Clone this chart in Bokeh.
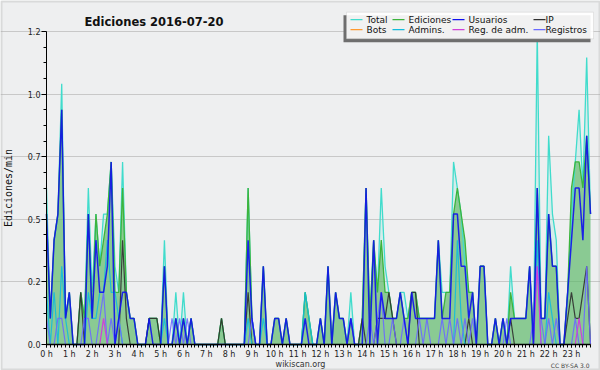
from bokeh.plotting import figure
from bokeh.models import ColumnDataSource, Range1d, FixedTicker, Label, BoxAnnotation
from bokeh.embed import file_html
from bokeh.resources import INLINE

# ---- data: edits counted in each 10-minute bin of 2016-07-20 (00:00 ... 23:50) ----
total = [
    6, 1, 4, 5, 10, 1,   # 0 h
    2, 0, 0, 2, 1, 6,    # 1 h
    2, 5, 3, 5, 5, 7,    # 2 h
    3, 2, 7, 2, 1, 1,    # 3 h
    0, 0, 0, 1, 1, 1,    # 4 h
    0, 4, 0, 0, 2, 0,    # 5 h
    2, 0, 1, 0, 0, 0,    # 6 h
    0, 0, 0, 0, 1, 0,    # 7 h
    0, 0, 0, 0, 0, 6,    # 8 h
    1, 0, 0, 3, 0, 0,    # 9 h
    1, 1, 0, 1, 0, 0,    # 10 h
    0, 0, 2, 1, 0, 0,    # 11 h
    1, 0, 3, 0, 2, 1,    # 12 h
    1, 0, 2, 0, 0, 1,    # 13 h
    6, 1, 4, 2, 6, 3,    # 14 h
    2, 1, 1, 2, 2, 1,    # 15 h
    2, 2, 1, 1, 1, 1,    # 16 h
    1, 4, 2, 2, 2, 7,    # 17 h
    6, 5, 3, 2, 2, 0,    # 18 h
    3, 3, 0, 0, 1, 0,    # 19 h
    1, 0, 3, 1, 1, 1,    # 20 h
    1, 3, 0, 12, 1, 1,   # 21 h
    8, 5, 4, 0, 0, 2,    # 22 h
    5, 7, 9, 6, 11, 5,   # 23 h
]
ediciones = [
    5, 1, 4, 5, 9, 1,
    2, 0, 0, 2, 1, 5,
    1, 5, 3, 4, 5, 7,
    2, 2, 6, 2, 1, 1,
    0, 0, 0, 1, 1, 1,
    0, 3, 0, 0, 1, 0,
    1, 0, 1, 0, 0, 0,
    0, 0, 0, 0, 1, 0,
    0, 0, 0, 0, 0, 6,
    1, 0, 0, 3, 0, 0,
    1, 1, 0, 1, 0, 0,
    0, 0, 2, 1, 0, 0,
    1, 0, 3, 0, 2, 1,
    1, 0, 1, 0, 0, 1,
    6, 1, 4, 2, 4, 2,
    2, 1, 1, 2, 1, 1,
    2, 2, 1, 1, 1, 1,
    1, 4, 1, 2, 2, 5,
    6, 5, 4, 2, 2, 0,
    3, 3, 0, 0, 1, 0,
    1, 0, 2, 1, 1, 1,
    1, 3, 0, 6, 1, 1,
    5, 3, 3, 0, 0, 2,
    6, 7, 7, 6, 8, 5,
]
usuarios = [
    5, 1, 4, 5, 9, 1,
    2, 0, 0, 0, 0, 5,
    1, 4, 2, 2, 3, 7,
    0, 1, 2, 2, 1, 1,
    0, 0, 0, 1, 0, 0,
    0, 3, 0, 0, 1, 0,
    1, 0, 1, 0, 0, 0,
    0, 0, 0, 0, 0, 0,
    0, 0, 0, 0, 0, 4,
    1, 0, 0, 3, 0, 0,
    1, 1, 0, 1, 0, 0,
    0, 0, 1, 0, 0, 0,
    1, 0, 3, 0, 2, 1,
    1, 0, 1, 0, 0, 0,
    6, 0, 4, 0, 2, 1,
    1, 1, 1, 2, 1, 0,
    2, 1, 1, 1, 1, 1,
    1, 4, 1, 1, 1, 5,
    5, 3, 3, 1, 2, 0,
    3, 3, 0, 0, 1, 0,
    1, 0, 1, 1, 1, 1,
    1, 3, 0, 6, 1, 1,
    5, 3, 3, 0, 0, 2,
    4, 6, 6, 4, 8, 5,
]
ip = [
    0, 0, 0, 0, 0, 0,
    0, 0, 0, 2, 0, 0,
    0, 0, 0, 0, 0, 0,
    0, 0, 4, 1, 0, 0,
    0, 0, 0, 1, 1, 1,
    0, 0, 0, 0, 0, 0,
    0, 0, 0, 0, 0, 0,
    0, 0, 0, 0, 1, 0,
    0, 0, 0, 0, 0, 2,
    0, 0, 0, 0, 0, 0,
    0, 0, 0, 0, 0, 0,
    0, 0, 0, 0, 0, 0,
    0, 0, 0, 0, 0, 0,
    0, 0, 0, 0, 0, 1,
    0, 0, 0, 1, 1, 1,
    2, 1, 0, 0, 0, 0,
    2, 2, 0, 0, 0, 0,
    0, 0, 0, 0, 0, 0,
    0, 0, 0, 1, 0, 0,
    0, 0, 0, 0, 0, 0,
    0, 0, 1, 0, 0, 0,
    0, 0, 0, 0, 0, 0,
    0, 0, 0, 0, 0, 1,
    2, 1, 1, 2, 3, 0,
]
bots = [
    0, 0, 0, 0, 0, 0,  0, 0, 0, 0, 0, 0,  0, 0, 0, 0, 0, 0,  0, 0, 0, 0, 0, 0,
    0, 0, 0, 0, 0, 0,  0, 0, 0, 0, 0, 0,  0, 0, 0, 0, 0, 0,  0, 0, 0, 0, 0, 0,
    0, 0, 0, 0, 0, 0,  0, 0, 0, 0, 0, 0,  0, 0, 0, 0, 0, 0,  0, 0, 0, 0, 0, 0,
    0, 0, 0, 0, 0, 0,  0, 0, 0, 0, 0, 0,  0, 0, 0, 0, 0, 0,  0, 0, 0, 0, 0, 0,
    0, 0, 0, 0, 0, 0,  0, 0, 0, 0, 0, 0,  0, 0, 0, 0, 0, 0,  0, 0, 0, 0, 0, 0,
    0, 0, 0, 0, 0, 0,  0, 0, 0, 0, 0, 0,  0, 0, 0, 0, 0, 0,  0, 0, 0, 0, 0, 0,
]
admins = [
    2, 0, 2, 0, 3, 1,
    0, 0, 0, 0, 0, 2,
    1, 1, 2, 2, 4, 2,
    2, 1, 0, 0, 0, 0,
    0, 0, 0, 0, 0, 0,
    0, 1, 0, 0, 0, 0,
    0, 0, 0, 0, 0, 0,
    0, 0, 0, 0, 0, 0,
    0, 0, 0, 0, 0, 1,
    0, 0, 0, 1, 0, 0,
    0, 0, 0, 0, 0, 0,
    0, 0, 2, 1, 0, 0,
    0, 0, 0, 0, 0, 0,
    0, 0, 0, 0, 0, 0,
    0, 0, 0, 0, 0, 0,
    0, 0, 0, 0, 0, 0,
    0, 0, 0, 0, 0, 0,
    0, 0, 0, 0, 0, 0,
    4, 1, 0, 0, 0, 0,
    0, 0, 0, 0, 0, 0,
    0, 0, 0, 0, 0, 0,
    0, 0, 0, 4, 0, 0,
    2, 1, 0, 0, 0, 0,
    0, 0, 0, 0, 0, 0,
]
reg_adm = [
    0, 0, 0, 0, 0, 0,
    0, 0, 0, 0, 0, 0,
    0, 0, 0, 1, 0, 0,
    0, 0, 0, 0, 0, 0,
    0, 0, 0, 0, 0, 0,
    0, 0, 0, 0, 0, 0,
    0, 0, 0, 0, 0, 0,
    0, 0, 0, 0, 0, 0,
    0, 0, 0, 0, 0, 0,
    0, 0, 0, 0, 0, 0,
    0, 0, 0, 0, 0, 0,
    0, 0, 0, 0, 0, 0,
    0, 0, 0, 0, 0, 0,
    0, 0, 0, 0, 0, 0,
    0, 0, 0, 0, 0, 0,
    0, 0, 0, 0, 0, 0,
    0, 0, 0, 0, 0, 0,
    0, 0, 0, 0, 0, 0,
    0, 0, 0, 0, 0, 0,
    0, 0, 0, 0, 0, 0,
    0, 0, 0, 0, 0, 0,
    0, 0, 0, 3, 0, 0,
    0, 0, 0, 0, 0, 0,
    0, 0, 1, 0, 0, 0,
]
registros = [
    1, 0, 0, 1, 1, 0,
    0, 0, 0, 0, 1, 1,
    0, 0, 1, 2, 0, 1,
    0, 1, 0, 0, 0, 0,
    0, 0, 0, 0, 0, 0,
    0, 0, 0, 1, 0, 1,
    0, 1, 0, 0, 0, 0,
    0, 0, 0, 0, 0, 0,
    0, 0, 0, 0, 0, 0,
    1, 0, 0, 0, 0, 0,
    0, 0, 0, 0, 0, 0,
    0, 0, 0, 0, 0, 0,
    0, 0, 0, 0, 0, 0,
    0, 0, 1, 0, 0, 0,
    0, 1, 0, 1, 2, 0,
    0, 1, 0, 0, 1, 0,
    0, 0, 1, 0, 1, 0,
    0, 0, 1, 0, 1, 0,
    1, 0, 1, 0, 1, 0,
    0, 0, 0, 0, 0, 0,
    0, 1, 0, 0, 0, 0,
    0, 0, 1, 3, 1, 0,
    1, 0, 1, 0, 0, 0,
    0, 1, 0, 0, 3, 0,
]

series_names = ["Total", "Ediciones", "Usuarios", "IP", "Bots", "Admins.", "Reg. de adm.", "Registros"]
x_tick_labels = ["0 h", "1 h", "2 h", "3 h", "4 h", "5 h", "6 h", "7 h", "8 h", "9 h", "10 h", "11 h",
                 "12 h", "13 h", "14 h", "15 h", "16 h", "17 h", "18 h", "19 h", "20 h", "21 h", "22 h", "23 h"]
y_tick_values = [0.0, 0.24, 0.48, 0.72, 0.96, 1.2]
y_tick_labels = ["0.0", "0.2", "0.5", "0.7", "1.0", "1.2"]
y_minor_ticks = [0.06, 0.12, 0.18, 0.30, 0.36, 0.42, 0.54, 0.60, 0.66, 0.78, 0.84, 0.90, 1.02, 1.08, 1.14]
title_text = "Ediciones  2016-07-20"

# ---- derived: time in hours for each bin, rate in edits / minute ----
n = len(total)
hours = [i / 6 for i in range(n)]
def per_min(a):
    return [v / 10 for v in a]

src = ColumnDataSource(dict(
    x=hours, total=per_min(total), ediciones=per_min(ediciones), usuarios=per_min(usuarios),
    ip=per_min(ip), bots=per_min(bots), admins=per_min(admins), reg_adm=per_min(reg_adm),
    registros=per_min(registros),
))

# ---- layout: the frame covers the whole canvas; axes are drawn at fixed positions ----
W, H = 600, 370
PX0, PX1 = 46, 590       # canvas x of first / last bin
PY0, PY1 = 344, 31       # canvas y of 0 and of top tick
XMAX = hours[-1]
YMAX = y_tick_values[-1]
xpp = XMAX / (PX1 - PX0)
ypp = YMAX / (PY0 - PY1)
x_range = Range1d(-PX0 * xpp, XMAX + (W - PX1) * xpp)
y_range = Range1d(-(H - PY0) * ypp, YMAX + PY1 * ypp)

BG = "#eeeff0"
FONT = "DejaVu Sans"
colors = {
    "Total": "#40dccc", "Ediciones": "#3cb43c", "Usuarios": "#1010f0", "IP": "#303030",
    "Bots": "#ff9a30", "Admins.": "#12bcdc", "Reg. de adm.": "#d040d8", "Registros": "#6a6aff",
}

p = figure(width=W, height=H, output_backend="svg", toolbar_location=None, title=None,
           x_range=x_range, y_range=y_range,
           min_border=0, min_border_left=0, min_border_right=0, min_border_top=0, min_border_bottom=0,
           background_fill_color=BG, border_fill_color=BG, outline_line_color=None)

# axes
xa = p.xaxis[0]
xa.fixed_location = 0
xa.bounds = (0, XMAX)
xa.ticker = FixedTicker(ticks=list(range(24)), minor_ticks=hours)
xa.major_label_overrides = {i: lab for i, lab in enumerate(x_tick_labels)}
xa.major_tick_out = 3
xa.major_tick_in = 0
xa.minor_tick_out = 3
xa.minor_tick_in = 0
xa.major_label_standoff = 2
xa.axis_line_width = 1.5
xa.axis_line_color = "black"
xa.major_tick_line_color = "black"
xa.minor_tick_line_color = "black"
xa.major_label_text_font = FONT
xa.major_label_text_font_size = "8px"
xa.major_label_text_color = "#222222"

ya = p.yaxis[0]
ya.fixed_location = 0
ya.bounds = (0, YMAX)
ya.ticker = FixedTicker(ticks=y_tick_values, minor_ticks=y_minor_ticks)
ya.major_label_overrides = {v: lab for v, lab in zip(y_tick_values, y_tick_labels)}
ya.major_tick_out = 5
ya.major_tick_in = 0
ya.minor_tick_out = 3
ya.minor_tick_in = 0
ya.major_label_standoff = 1
ya.axis_line_color = "black"
ya.major_tick_line_color = "black"
ya.minor_tick_line_color = "black"
ya.major_label_text_font = FONT
ya.major_label_text_font_size = "8px"
ya.major_label_text_color = "#222222"
ya.axis_label = "Ediciones/min"
ya.axis_label_text_font = "DejaVu Sans Mono"
ya.axis_label_text_font_size = "10px"
ya.axis_label_text_font_style = "normal"
ya.axis_label_text_color = "#111111"
ya.axis_label_standoff = 11

p.xgrid.visible = False
p.ygrid.ticker = FixedTicker(ticks=y_tick_values[1:])
p.ygrid.bounds = (0, XMAX)
p.ygrid.grid_line_color = "#c8c8c8"
p.ygrid.grid_line_width = 1

# areas
p.varea(x="x", y1=0, y2="total", source=src, fill_color=colors["Total"], fill_alpha=0.14)
p.varea(x="x", y1=0, y2="ediciones", source=src, fill_color="#5cb45e", fill_alpha=0.62)

# lines
p.line("x", "total", source=src, line_color=colors["Total"], line_width=1.3)
p.line("x", "ediciones", source=src, line_color=colors["Ediciones"], line_width=1.3)
p.line("x", "ip", source=src, line_color=colors["IP"], line_width=1.2, line_alpha=0.9)
p.line("x", "admins", source=src, line_color=colors["Admins."], line_width=1.2, line_alpha=0.9)
p.line("x", "registros", source=src, line_color=colors["Registros"], line_width=1.2, line_alpha=0.9)
p.line("x", "reg_adm", source=src, line_color=colors["Reg. de adm."], line_width=1.2)
p.line("x", "usuarios", source=src, line_color=colors["Usuarios"], line_width=1.5, line_alpha=0.9)
p.line("x", "bots", source=src, line_color=colors["Bots"], line_width=1.2)

# screen-unit helpers (canvas pixels measured from the top-left corner)
def sbox(l, r, top, bottom, **kw):
    return BoxAnnotation(left=l, right=r, bottom=H - bottom, top=H - top,
                         left_units="screen", right_units="screen",
                         bottom_units="screen", top_units="screen", **kw)

def slabel(x, y, text, **kw):
    return Label(x=x, y=H - y, x_units="screen", y_units="screen", text=text, **kw)

# title
p.add_layout(slabel(84, 21.7, title_text, text_font=FONT, text_font_size="11.5px",
                    text_font_style="bold", text_color="#111111", text_baseline="alphabetic"))

# legend: shadow, box, swatches, labels
p.add_layout(sbox(343, 590, 14.7, 41.7, fill_color="#6e6e6e", fill_alpha=1, line_color=None))
p.add_layout(sbox(346, 593, 11.7, 38.3, fill_color="white", fill_alpha=0.9,
                  line_color="#b8b8b8", line_width=1))
col_swatch = [350, 392, 452, 533]
col_text = [366, 408, 468, 545]
row_y = [19.2, 29.2]
for idx, name in enumerate(series_names):
    r, c = divmod(idx, 4)
    y = row_y[r]
    p.add_layout(sbox(col_swatch[c], col_swatch[c] + 12, y - 0.6, y + 0.6,
                      fill_color=colors[name], fill_alpha=1, line_color=None))
    p.add_layout(slabel(col_text[c], y, name, text_font=FONT, text_font_size="9px",
                        text_baseline="middle", text_color="#111111"))

# footer texts
p.add_layout(slabel(300, 364.3, "wikiscan.org", text_font=FONT, text_font_size="8px",
                    text_align="center", text_baseline="alphabetic", text_color="#333333"))
p.add_layout(slabel(589, 364.7, "CC BY-SA 3.0", text_font=FONT, text_font_size="6px",
                    text_align="right", text_baseline="alphabetic", text_color="#444444"))

# outer frame of the image
p.add_layout(sbox(1, 599, 1, 369, fill_color=None, line_color="#a8a8a8", line_width=2))

open("out.html", "w").write(file_html(p, INLINE))
